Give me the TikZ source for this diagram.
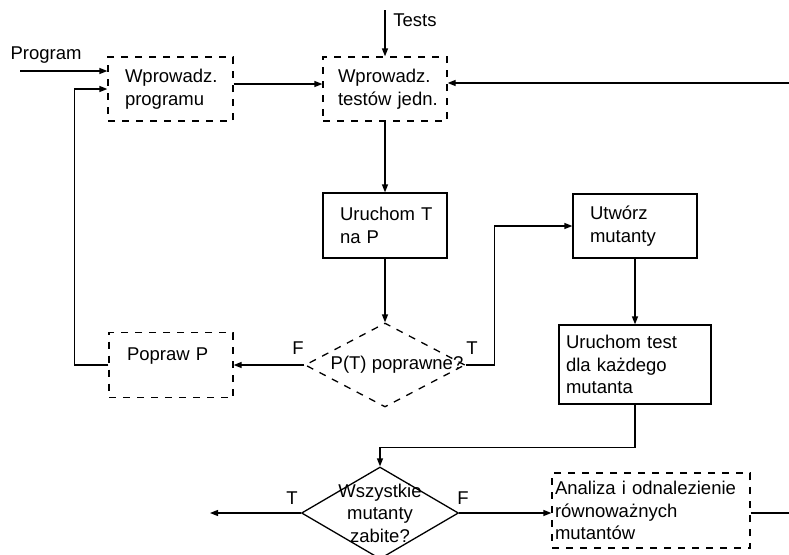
\documentclass[tikz,border=0pt]{standalone}
\usepackage{fontspec}
\setmainfont{Liberation Sans}
\usetikzlibrary{shapes.geometric,arrows.meta}
\begin{document}
\begin{tikzpicture}[x=1pt,y=-1pt,
    font=\fontsize{18.5}{22.5}\selectfont,
    line width=1.3pt,
    krok/.style n args={3}{draw,rectangle,align=left,inner sep=0pt,text width=#1,minimum height=#2,
        execute at begin node={\leftskip=#3}},
    przer/.style={dash pattern=on 7pt off 7pt},
    decyzja/.style={draw,diamond,inner sep=0pt},
    arr/.style={-{Triangle[length=8pt,width=6pt]}}]
    \useasboundingbox (0,0) rectangle (789,554);
    \clip (0,0) rectangle (789,554);

    \node[krok={125pt}{64pt}{17pt},przer] (wprog) at (170.5,89) {Wprowadz.\\programu};
    \node[krok={124pt}{64pt}{15pt},przer] (wtest) at (385,89) {Wprowadz.\\testów jedn.};
    \node[krok={124pt}{65pt}{17pt}] (urT) at (385,225.5) {Uruchom T\\na P};
    \node[krok={124pt}{65pt}{18pt},przer] (popraw) at (171,365) {Popraw P\\\mbox{}};
    \node[decyzja,przer,minimum width=160pt,minimum height=84pt,
          label={[xshift=12pt]center:P(T) poprawne?}] (decP) at (385,365) {};
    \node[krok={124pt}{64pt}{17pt}] (utworz) at (635,226) {Utwórz\\mutanty};
    \node[krok={152pt}{79pt}{7pt}] (urTest) at (635,364.5) {Uruchom test\\dla każdego\\mutanta};
    \node[decyzja,minimum width=157pt,minimum height=92pt,
          label={[align=center]center:Wszystkie\\mutanty\\zabite?}] (decW) at (380,513) {};
    \node[krok={198pt}{75pt}{3pt},przer] (analiza) at (651,510.5) {Analiza i odnalezienie\\równoważnych\\mutantów};

    \node (program) at (46,55) {Program};
    \node (tests) at (415,20) {Tests};
    \node (fP) at (298,348) {F};
    \node (tP) at (472,348) {T};
    \node (tW) at (292,498) {T};
    \node (fW) at (463,498) {F};

    \coordinate (progIn) at (20,71);
    \coordinate (testsIn) at (385,10);
    \coordinate (rightIn) at (789,83);
    \coordinate (outT) at (210,513);
    \coordinate (rightOut) at (789,513);

    \draw[arr] (progIn) -- (progIn -| wprog.west);
    \draw[arr] (testsIn) -- (wtest.north);
    \draw[arr] (rightIn) -- (rightIn -| wtest.east);
    \draw[arr] ([yshift=5pt]wprog.east) -- ([yshift=5pt]wtest.west);
    \draw[arr] (wtest.south) -- (urT.north);
    \draw[arr] (urT.south) -- (decP.north);
    \draw[arr] (decP.west) -- (popraw.east);
    \draw[arr] (popraw.west) -- ++(-34,0) |- (wprog.west);
    \draw[arr] (decP.east) -- ++(29,0) |- (utworz.west);
    \draw[arr] (utworz.south) -- (urTest.north);
    \draw[arr] (urTest.south) -- ++(0,43) -| (decW.north);
    \draw[arr] (decW.west) -- (outT);
    \draw[arr] (decW.east) -- (decW.east -| analiza.west);
    \draw (rightOut -| analiza.east) -- (rightOut);
\end{tikzpicture}
\end{document}
